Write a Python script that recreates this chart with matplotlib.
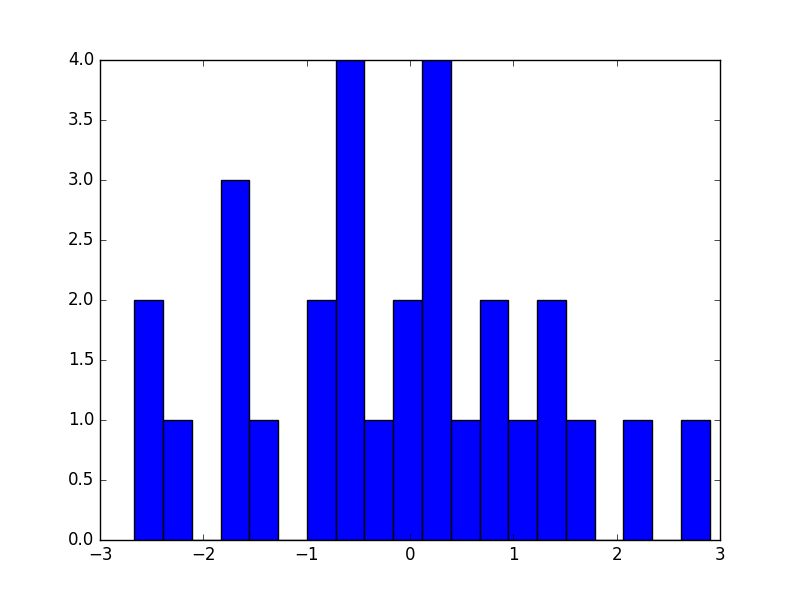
import matplotlib
matplotlib.use("Agg")
import matplotlib.pyplot as plt
import numpy as np

plt.style.use('classic')

counts = [2, 1, 0, 3, 1, 0, 2, 4, 1, 2, 4, 1, 2, 1, 2, 1, 0, 1, 0, 1]
x_min = -2.668
x_max = 2.900

edges = np.linspace(x_min, x_max, len(counts) + 1)

fig, ax = plt.subplots(figsize=(8, 6), dpi=100)
ax.hist(edges[:-1], bins=edges, weights=counts, color='blue', edgecolor='black')
ax.set_xlim(-3, 3)
ax.set_ylim(0, 4)
fig.savefig('out.png', dpi=100)
